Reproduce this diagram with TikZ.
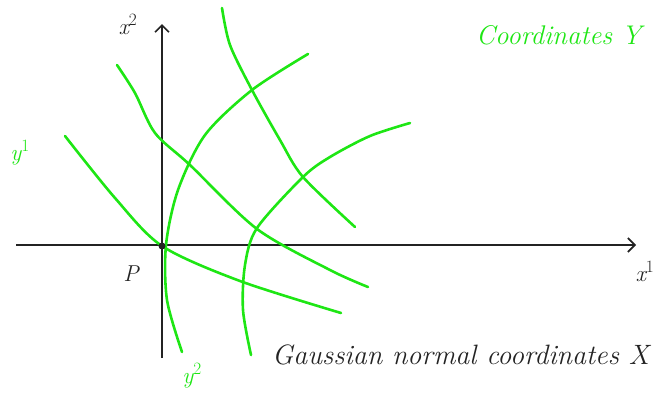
\documentclass[tikz,border=0pt]{standalone}
\usetikzlibrary{arrows.meta}
\definecolor{hgreen}{RGB}{30,230,20}
\definecolor{ink}{RGB}{35,35,35}
\begin{document}
\begin{tikzpicture}[x=1pt,y=-1pt,
  axis/.style={draw=ink,line width=1.8pt,-{Straight Barb[length=7pt,width=14pt,line width=1.6pt]}},
  gcurve/.style={draw=hgreen,line width=2.6pt,line cap=round,line join=round},
  glabel/.style={text=hgreen,font=\itshape\fontsize{27}{30}\selectfont,inner sep=0pt},
  klabel/.style={text=ink,font=\itshape\fontsize{28}{30}\selectfont,inner sep=0pt},
  gsym/.style={text=hgreen,font=\itshape\fontsize{23}{26}\selectfont,inner sep=0pt},
  ksym/.style={text=ink,font=\itshape\fontsize{23}{26}\selectfont,inner sep=0pt}]
\useasboundingbox (0,0) rectangle (656,394);
% axes
\coordinate (xs) at (16,245);
\coordinate (xe) at (636,245);
\coordinate (ys) at (162,358);
\coordinate (ye) at (162,24);
\draw[axis] (xs) -- (xe);
\draw[axis] (ys) -- (ye);
% green curves
\draw[gcurve] plot[smooth,tension=0.5] coordinates {(65,136) (115,198) (162,246) (240,281) (341,313)};
\draw[gcurve] plot[smooth,tension=0.5] coordinates {(117,65) (135,93) (155,133) (190,165) (257,229) (330,270) (368,287)};
\draw[gcurve] plot[smooth,tension=0.5] coordinates {(222,8) (230,45) (252,90) (280,140) (303,177) (355,227)};
\draw[gcurve] plot[smooth,tension=0.5] coordinates {(308,54) (252,90) (205,135) (178,190) (166,245) (167,300) (182,352)};
\draw[gcurve] plot[smooth,tension=0.5] coordinates {(410,123) (370,136) (330,157) (303,177) (257,228) (245,265) (243,310) (251,355)};
% point P
\node[circle,fill=ink,inner sep=0pt,minimum size=7pt] (P) at (162,246) {};
\node[ksym] (Plab) at (131,274) {P};
% labels
\node[ksym] (x2) at (128,25) {x$^2$};
\node[ksym] (x1) at (645,272) {x$^1$};
\node[gsym] (y1) at (20,153) {y$^1$};
\node[gsym] (y2) at (192,376) {y$^2$};
\node[glabel,anchor=west] (cy) at (476,35) {Coordinates Y};
\node[klabel,anchor=west] (gx) at (272,355) {Gaussian normal coordinates X};
\end{tikzpicture}
\end{document}
